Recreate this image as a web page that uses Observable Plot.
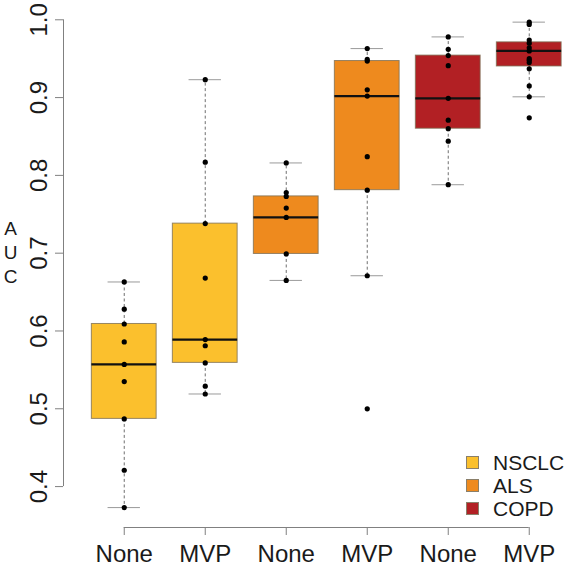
<!DOCTYPE html>
<html>
<head>
<meta charset="utf-8">
<script src="https://cdn.jsdelivr.net/npm/d3@7"></script>
<script src="https://cdn.jsdelivr.net/npm/@observablehq/plot@0.6"></script>
<style>
  html, body { margin: 0; padding: 0; background: #fff; }
  #wrap { position: relative; width: 566px; height: 566px; font-family: "Liberation Sans", Arial, Helvetica, sans-serif; }
  #legend { position: absolute; left: 466px; top: 451px; }
  .li { display: flex; align-items: center; height: 23px; font-size: 21px; color: #1a1a1a; }
  .sw { width: 11px; height: 11px; border: 1px solid #8a7f6a; margin-right: 14px; box-sizing: content-box; }
</style>
</head>
<body>
<div id="wrap"></div>
<script>
// ---- data ----
const groupLabels = ["None", "MVP", "None", "MVP", "None", "MVP"];
const diseases    = ["NSCLC", "NSCLC", "ALS", "ALS", "COPD", "COPD"];
const legendNames = ["NSCLC", "ALS", "COPD"];
const diseaseColors = ["#FBC02D", "#EE8A1E", "#B22024"];

const boxQ1   = [0.487, 0.559, 0.699, 0.781, 0.860, 0.940];
const boxMed  = [0.557, 0.589, 0.746, 0.902, 0.899, 0.960];
const boxQ3   = [0.609, 0.738, 0.773, 0.947, 0.954, 0.971];
const whiskLo = [0.373, 0.519, 0.665, 0.671, 0.788, 0.901];
const whiskHi = [0.663, 0.923, 0.816, 0.963, 0.978, 0.997];

const pointsNoneNSCLC = [0.663, 0.628, 0.609, 0.586, 0.557, 0.535, 0.487, 0.421, 0.373];
const pointsMvpNSCLC  = [0.923, 0.817, 0.738, 0.668, 0.589, 0.581, 0.559, 0.529, 0.519];
const pointsNoneALS   = [0.816, 0.778, 0.773, 0.758, 0.746, 0.699, 0.665];
const pointsMvpALS    = [0.963, 0.949, 0.947, 0.910, 0.902, 0.824, 0.781, 0.671, 0.500];
const pointsNoneCOPD  = [0.978, 0.962, 0.954, 0.941, 0.899, 0.871, 0.860, 0.844, 0.788];
const pointsMvpCOPD   = [0.997, 0.994, 0.974, 0.970, 0.964, 0.960, 0.950, 0.948, 0.945, 0.937, 0.915, 0.901, 0.874];

const yTicks = [0.4, 0.5, 0.6, 0.7, 0.8, 0.9, 1.0];
const yLabel = "A\nU\nC";

// ---- tables built from the arrays ----
const pos = groupLabels.map((_, i) => i + 1);
const boxes = pos.map((p, i) => ({
  p, disease: diseases[i], q1: boxQ1[i], med: boxMed[i], q3: boxQ3[i], lo: whiskLo[i], hi: whiskHi[i]
}));
const pointSets = [pointsNoneNSCLC, pointsMvpNSCLC, pointsNoneALS, pointsMvpALS, pointsNoneCOPD, pointsMvpCOPD];
const points = pointSets.flatMap((arr, i) => arr.map(v => ({p: i + 1, v})));

const xDomain = [0.25, 6.46];
const yDomain = [0.3474, 1.0248];
const half = 0.4, staple = 0.2;
const axisGray = "#808080";

const chart = Plot.plot({
  width: 566,
  height: 566,
  marginLeft: 63,
  marginRight: 0,
  marginTop: 0,
  marginBottom: 39,
  style: {fontFamily: "'Liberation Sans', Arial, Helvetica, sans-serif", color: "#1a1a1a", background: "#fff"},
  x: {type: "linear", domain: xDomain},
  y: {type: "linear", domain: yDomain},
  color: {domain: legendNames, range: diseaseColors},
  marks: [
    // whiskers (dashed)
    Plot.ruleX(boxes, {x: "p", y1: "q3", y2: "hi", stroke: "#6f6f6f", strokeDasharray: "3,2.5", strokeWidth: 1}),
    Plot.ruleX(boxes, {x: "p", y1: "q1", y2: "lo", stroke: "#6f6f6f", strokeDasharray: "3,2.5", strokeWidth: 1}),
    // staples
    Plot.ruleY(boxes, {y: "hi", x1: d => d.p - staple, x2: d => d.p + staple, stroke: "#9a9a9a", strokeWidth: 1}),
    Plot.ruleY(boxes, {y: "lo", x1: d => d.p - staple, x2: d => d.p + staple, stroke: "#9a9a9a", strokeWidth: 1}),
    // boxes
    Plot.rect(boxes, {x1: d => d.p - half, x2: d => d.p + half, y1: "q1", y2: "q3", fill: "disease", stroke: "#7d6f55", strokeWidth: 1, strokeOpacity: 0.8}),
    // medians
    Plot.ruleY(boxes, {y: "med", x1: d => d.p - half, x2: d => d.p + half, stroke: "#111", strokeWidth: 2.2}),
    // points
    Plot.dot(points, {x: "p", y: "v", r: 2.6, fill: "#000", stroke: "none"}),
    // axes lines
    Plot.ruleX([xDomain[0]], {y1: yTicks[0], y2: yTicks[yTicks.length - 1], stroke: axisGray}),
    Plot.ruleY([yDomain[0]], {x1: pos[0], x2: pos[pos.length - 1], stroke: axisGray}),
    // y ticks
    Plot.axisY({ticks: yTicks, tickSize: 8, tickFormat: () => "", label: null, stroke: axisGray}),
    Plot.text(yTicks, {y: d => d, frameAnchor: "left", dx: -24.5, rotate: -90, text: d => d.toFixed(1),
      fontSize: 24, textAnchor: "middle", lineAnchor: "middle", fill: "#1a1a1a"}),
    // x ticks + labels
    Plot.axisX({ticks: pos, tickSize: 8, tickPadding: 9, tickFormat: d => groupLabels[d - 1], label: null,
      fontSize: 24, stroke: axisGray, fill: "#1a1a1a"}),
    // y label
    Plot.text([yLabel], {frameAnchor: "left", dx: -53, dy: -12.5, text: d => d, fontSize: 19,
      lineHeight: 1.24, textAnchor: "middle", lineAnchor: "middle", fill: "#1a1a1a"})
  ]
});

const wrap = document.getElementById("wrap");
wrap.appendChild(chart);

const legend = document.createElement("div");
legend.id = "legend";
legendNames.forEach((name, i) => {
  const row = document.createElement("div");
  row.className = "li";
  const sw = document.createElement("div");
  sw.className = "sw";
  sw.style.background = diseaseColors[i];
  const t = document.createElement("span");
  t.textContent = name;
  row.appendChild(sw);
  row.appendChild(t);
  legend.appendChild(row);
});
wrap.appendChild(legend);
</script>
</body>
</html>
